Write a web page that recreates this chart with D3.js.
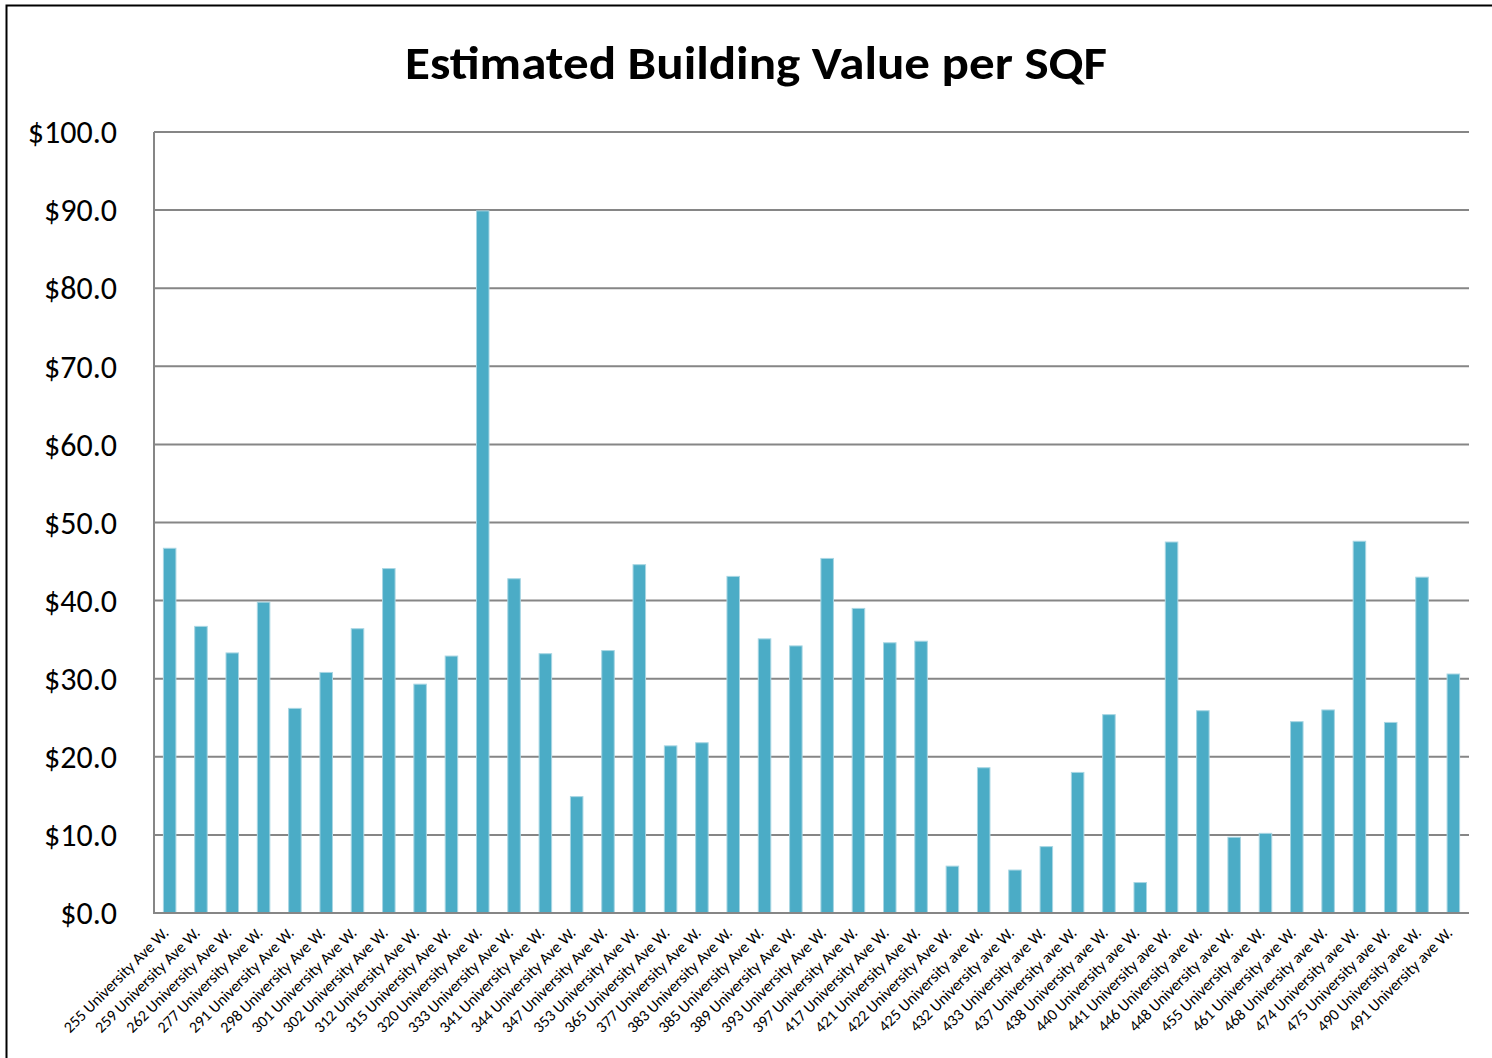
<!DOCTYPE html>
<html>
<head>
<meta charset="utf-8">
<script src="https://cdn.jsdelivr.net/npm/d3@7"></script>
<style>
    html, body { margin: 0; padding: 0; background: #fff; }
    svg { display: block; }
    text { font-family: Carlito, "Open Sans", sans-serif; fill: #000; }
</style>
</head>
<body>
<svg width="1492" height="1058"></svg>
<script>
const addresses = [
    "255 University Ave W.", "259 University Ave W.", "262 University Ave W.", "277 University Ave W.",
    "291 University Ave W.", "298 University Ave W.", "301 University Ave W.", "302 University Ave W.",
    "312 University Ave W.", "315 University Ave W.", "320 University Ave W.", "333 University Ave W.",
    "341 University Ave W.", "344 University Ave W.", "347 University Ave W.", "353 University Ave W.",
    "365 University Ave W.", "377 University Ave W.", "383 University Ave W.", "385 University Ave W.",
    "389 University Ave W.", "393 University Ave W.", "397 University Ave W.", "417 University Ave W.",
    "421 University Ave W.", "422 University Ave W.", "425 University ave W.", "432 University ave W.",
    "433 University ave W.", "437 University ave W.", "438 University ave W.", "440 University ave W.",
    "441 University ave W.", "446 University ave W.", "448 University ave W.", "455 University ave W.",
    "461 University ave W.", "468 University ave W.", "474 University ave W.", "475 University ave W.",
    "490 University ave W.", "491 University ave W."
];
const valuePerSqf = [
    46.7, 36.7, 33.3, 39.8, 26.2, 30.8, 36.4, 44.1, 29.3, 32.9, 89.9, 42.8,
    33.2, 14.9, 33.6, 44.6, 21.4, 21.8, 43.1, 35.1, 34.2, 45.4, 39.0, 34.6,
    34.8, 6.0, 18.6, 5.5, 8.5, 18.0, 25.4, 3.9, 47.5, 25.9, 9.7, 10.2,
    24.5, 26.0, 47.6, 24.4, 43.0, 30.6
];
const yTicks = [0, 10, 20, 30, 40, 50, 60, 70, 80, 90, 100];
const title = "Estimated Building Value per SQF";

const svg = d3.select("svg");
const plotLeft = 154, plotRight = 1469, plotTop = 132, plotBottom = 913;

// outer frame, runs off the right and bottom edges
svg.append("rect")
    .attr("x", 6.5).attr("y", 5.5)
    .attr("width", 1500).attr("height", 1070)
    .attr("fill", "none").attr("stroke", "#000").attr("stroke-width", 2);

svg.append("text")
    .attr("x", 756).attr("y", 79)
    .attr("text-anchor", "middle")
    .attr("font-size", 46).attr("font-weight", "bold")
    .attr("textLength", 702).attr("lengthAdjust", "spacingAndGlyphs")
    .text(title);

const x = d3.scaleBand().domain(addresses).range([plotLeft, plotRight]).paddingInner(0.6).paddingOuter(0.3);
const y = d3.scaleLinear().domain([0, 100]).range([plotBottom, plotTop]);

svg.append("g")
    .selectAll("line")
    .data(yTicks.filter((d) => d > 0))
    .enter()
    .append("line")
    .attr("x1", plotLeft).attr("x2", plotRight)
    .attr("y1", (d) => y(d)).attr("y2", (d) => y(d))
    .attr("stroke", "#868686").attr("stroke-width", 2);

svg.append("g")
    .selectAll("rect")
    .data(valuePerSqf)
    .enter()
    .append("rect")
    .attr("x", (d, i) => x(addresses[i]))
    .attr("width", x.bandwidth())
    .attr("y", (d) => y(d))
    .attr("height", (d) => plotBottom - y(d))
    .attr("fill", "#4bacc6")
    .attr("stroke", "#a8d6e3").attr("stroke-width", 1);

// axis lines
svg.append("line").attr("x1", plotLeft).attr("x2", plotLeft).attr("y1", plotTop).attr("y2", plotBottom)
    .attr("stroke", "#868686").attr("stroke-width", 2);
svg.append("line").attr("x1", plotLeft - 1).attr("x2", plotRight).attr("y1", plotBottom).attr("y2", plotBottom)
    .attr("stroke", "#868686").attr("stroke-width", 2);

svg.append("g")
    .selectAll("text")
    .data(yTicks)
    .enter()
    .append("text")
    .attr("x", 117)
    .attr("y", (d) => y(d))
    .attr("dy", "0.35em")
    .attr("text-anchor", "end")
    .attr("font-size", 32)
    .text((d) => "$" + d.toFixed(1));

svg.append("g")
    .selectAll("text")
    .data(addresses)
    .enter()
    .append("text")
    .attr("transform", (d) => `translate(${x(d) + x.bandwidth() / 2},${plotBottom + 21}) rotate(-45)`)
    .attr("text-anchor", "end")
    .attr("font-size", 16)
    .text((d) => d);
</script>
</body>
</html>
